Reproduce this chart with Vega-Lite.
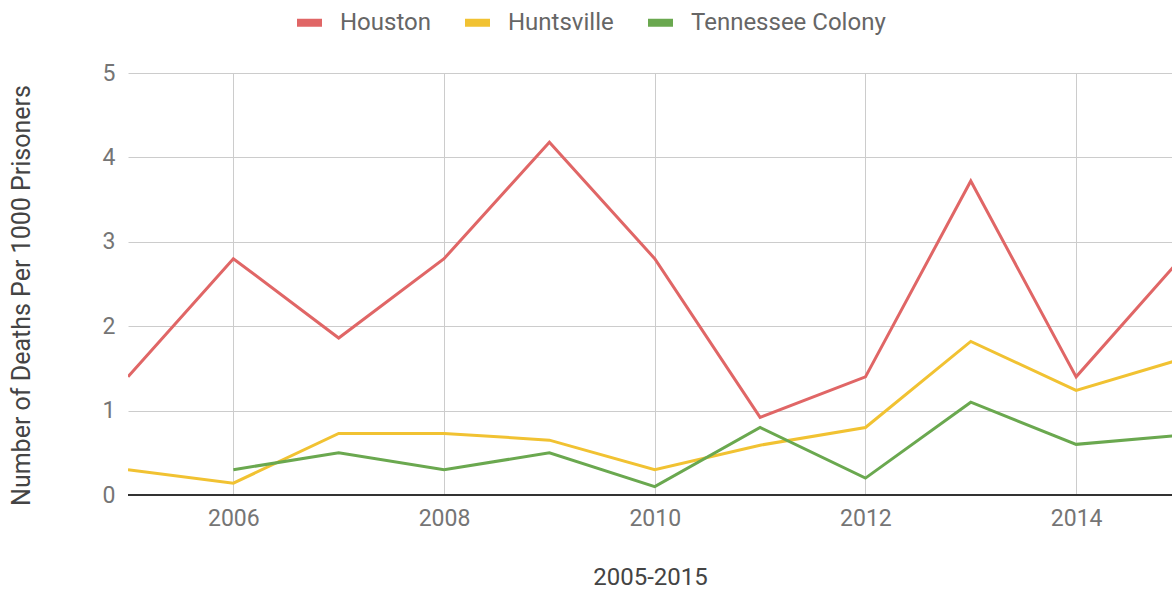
{
  "$schema": "https://vega.github.io/schema/vega-lite/v6.json",
  "width": 1044,
  "height": 422,
  "autosize": {"type": "none"},
  "padding": {"left": 128, "top": 73, "right": 0, "bottom": 97},
  "background": "white",
  "config": {
    "font": "Roboto",
    "view": {"stroke": null}
  },
  "data": {
    "values": [
      {"year": 2005, "city": "Houston", "rate": 1.40},
      {"year": 2006, "city": "Houston", "rate": 2.80},
      {"year": 2007, "city": "Houston", "rate": 1.86},
      {"year": 2008, "city": "Houston", "rate": 2.80},
      {"year": 2009, "city": "Houston", "rate": 4.18},
      {"year": 2010, "city": "Houston", "rate": 2.80},
      {"year": 2011, "city": "Houston", "rate": 0.92},
      {"year": 2012, "city": "Houston", "rate": 1.40},
      {"year": 2013, "city": "Houston", "rate": 3.72},
      {"year": 2014, "city": "Houston", "rate": 1.40},
      {"year": 2015, "city": "Houston", "rate": 2.81},
      {"year": 2005, "city": "Huntsville", "rate": 0.30},
      {"year": 2006, "city": "Huntsville", "rate": 0.14},
      {"year": 2007, "city": "Huntsville", "rate": 0.73},
      {"year": 2008, "city": "Huntsville", "rate": 0.73},
      {"year": 2009, "city": "Huntsville", "rate": 0.65},
      {"year": 2010, "city": "Huntsville", "rate": 0.30},
      {"year": 2011, "city": "Huntsville", "rate": 0.59},
      {"year": 2012, "city": "Huntsville", "rate": 0.80},
      {"year": 2013, "city": "Huntsville", "rate": 1.82},
      {"year": 2014, "city": "Huntsville", "rate": 1.24},
      {"year": 2015, "city": "Huntsville", "rate": 1.61},
      {"year": 2006, "city": "Tennessee Colony", "rate": 0.30},
      {"year": 2007, "city": "Tennessee Colony", "rate": 0.50},
      {"year": 2008, "city": "Tennessee Colony", "rate": 0.30},
      {"year": 2009, "city": "Tennessee Colony", "rate": 0.50},
      {"year": 2010, "city": "Tennessee Colony", "rate": 0.10},
      {"year": 2011, "city": "Tennessee Colony", "rate": 0.80},
      {"year": 2012, "city": "Tennessee Colony", "rate": 0.20},
      {"year": 2013, "city": "Tennessee Colony", "rate": 1.10},
      {"year": 2014, "city": "Tennessee Colony", "rate": 0.60},
      {"year": 2015, "city": "Tennessee Colony", "rate": 0.71}
    ]
  },
  "layer": [
    {
      "mark": {"type": "rule", "color": "#333333", "strokeWidth": 1.5},
      "encoding": {"y": {"datum": 0}}
    },
    {
      "mark": {"type": "line", "strokeWidth": 3, "clip": true},
      "encoding": {
        "x": {
          "field": "year",
          "type": "quantitative",
          "scale": {"domain": [2005, 2014.91], "nice": false, "zero": false},
          "axis": {
            "title": "2005-2015",
            "values": [2006, 2008, 2010, 2012, 2014],
            "format": "d",
            "domain": false,
            "ticks": false,
            "grid": true,
            "gridColor": "#cccccc",
            "labelFont": "Roboto",
            "labelFontSize": 23,
            "labelColor": "#757575",
            "labelPadding": 12,
            "titleFont": "Roboto",
            "titleFontSize": 24,
            "titleFontWeight": "normal",
            "titleColor": "#444444",
            "titlePadding": 35
          }
        },
        "y": {
          "field": "rate",
          "type": "quantitative",
          "scale": {"domain": [0, 5], "nice": false},
          "axis": {
            "title": "Number of Deaths Per 1000 Prisoners",
            "values": [0, 1, 2, 3, 4, 5],
            "format": "d",
            "domain": false,
            "ticks": false,
            "grid": true,
            "gridColor": "#cccccc",
            "labelFont": "Roboto",
            "labelFontSize": 23,
            "labelColor": "#757575",
            "labelPadding": 13,
            "titleFont": "Roboto",
            "titleFontSize": 25,
            "titleFontWeight": "normal",
            "titleColor": "#444444",
            "titlePadding": 68,
            "titleY": 222
          }
        },
        "color": {
          "field": "city",
          "type": "nominal",
          "scale": {
            "domain": ["Houston", "Huntsville", "Tennessee Colony"],
            "range": ["#e06666", "#f1c232", "#6aa84f"]
          },
          "legend": {
            "title": null,
            "orient": "none",
            "direction": "horizontal",
            "legendX": 165,
            "legendY": -67,
            "symbolType": "stroke",
            "symbolSize": 625,
            "symbolStrokeWidth": 8,
            "labelFont": "Roboto",
            "labelFontSize": 24,
            "labelColor": "#666666",
            "labelOffset": 14,
            "labelLimit": 400,
            "columnPadding": 18
          }
        }
      }
    }
  ]
}
